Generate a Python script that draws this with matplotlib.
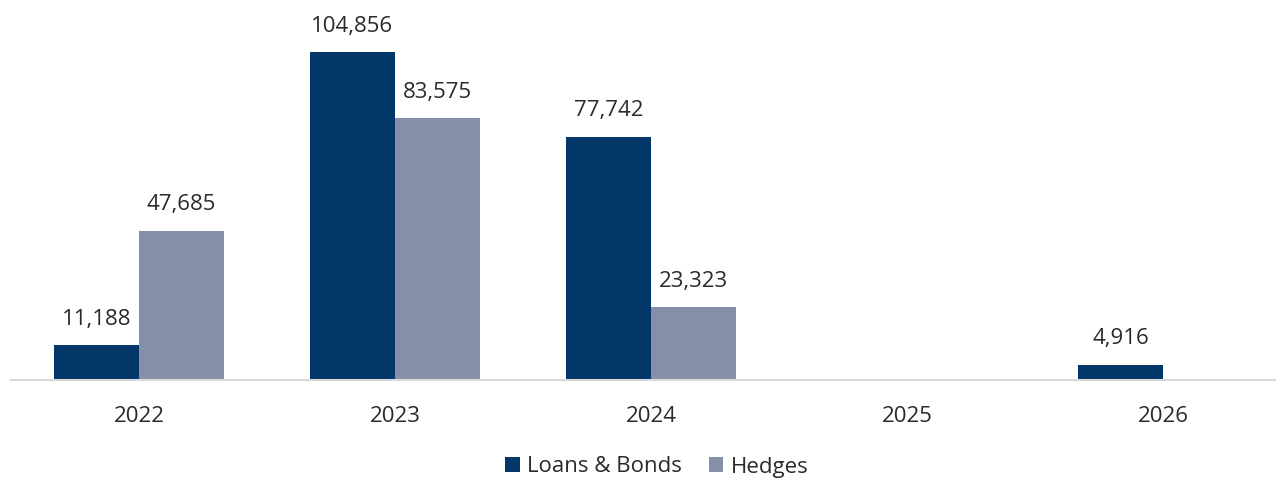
import matplotlib
matplotlib.use("Agg")
import matplotlib.pyplot as plt
import numpy as np

categories = ["2022", "2023", "2024", "2025", "2026"]
loans_bonds = [11188, 104856, 77742, 0, 4916]
hedges = [47685, 83575, 23323, 0, 0]

plt.rcParams['font.family'] = ['Open Sans', 'DejaVu Sans']

navy = "#03376A"
grey = "#858FA8"

fig = plt.figure(figsize=(12.76, 4.8), dpi=100)
ax = fig.add_axes([11/1276, 100/480, 1.0 - 11/1276, 380/480])

x = np.arange(len(categories))
w = 0.333
b1 = ax.bar(x - w/2, loans_bonds, w, color=navy, label="Loans & Bonds")
b2 = ax.bar(x + w/2, hedges, w, color=grey, label="Hedges")

for bars, vals in ((b1, loans_bonds), (b2, hedges)):
    for rect, v in zip(bars, vals):
        if v > 0:
            ax.annotate(f"{v:,}", (rect.get_x() + rect.get_width()/2, v),
                        xytext=(0, 11), textcoords="offset points",
                        ha="center", va="bottom", fontsize=16, color="#2a2a2a")

ax.set_xlim(-0.5, 4.5 - 15/256)
ax.set_ylim(0, 121400)
ax.set_xticks(x)
ax.set_xticklabels(categories, fontsize=16, color="#2a2a2a")
ax.tick_params(axis='x', length=0, pad=19)
ax.set_yticks([])
for s in ["top", "right", "left"]:
    ax.spines[s].set_visible(False)
ax.spines["bottom"].set_color("#D9D9D9")
ax.spines["bottom"].set_linewidth(1.5)

fig.legend(handles=[b1, b2], loc="center", bbox_to_anchor=(657/1276, 1 - 467/480),
           ncol=2, frameon=False, fontsize=16, handlelength=0.65, handleheight=0.65,
           handletextpad=0.35, columnspacing=1.2, labelcolor="#2a2a2a")

fig.savefig("out.png", dpi=100)
